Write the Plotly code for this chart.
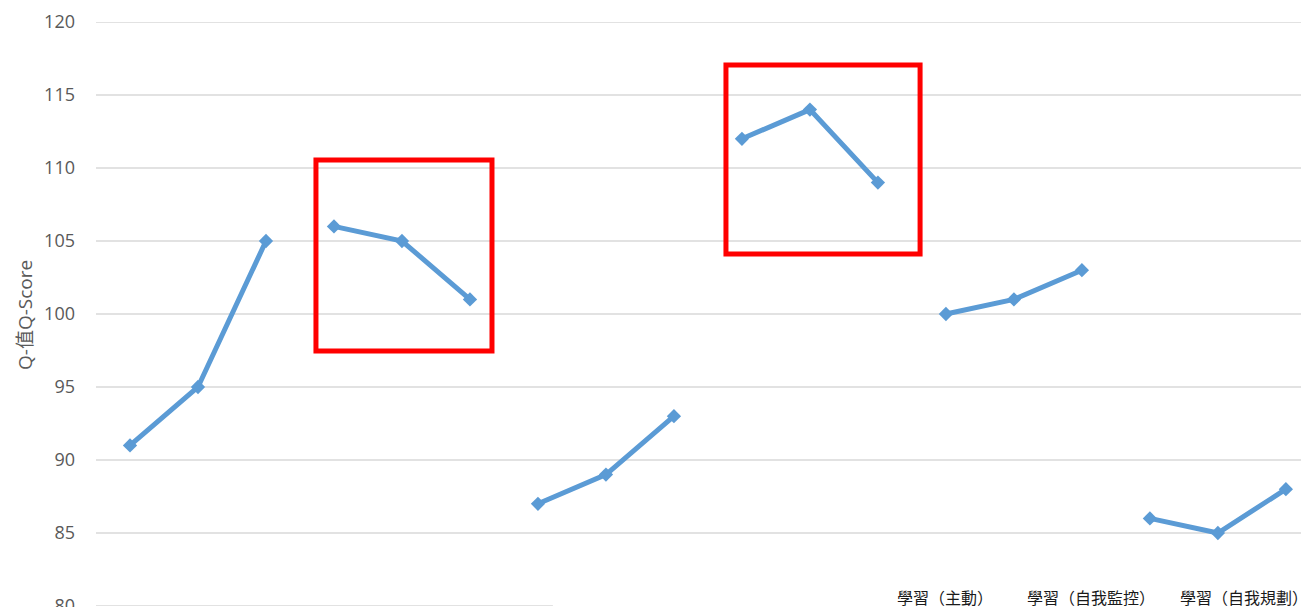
import plotly.graph_objects as go

# ---- data ----
categories = [f"{g}-{k}" for g in range(1, 7) for k in range(1, 4)]
group_a = [91, 95, 105]
group_b = [106, 105, 101]
group_c = [87, 89, 93]
group_d = [112, 114, 109]
group_e = [100, 101, 103]
group_f = [86, 85, 88]
groups = [group_a, group_b, group_c, group_d, group_e, group_f]
y_ticks = [80, 85, 90, 95, 100, 105, 110, 115, 120]
bottom_labels = ["學習（主動）", "學習（自我監控）", "學習（自我規劃）"]
y_title = "Q-值Q-Score"

LINE = "#5B9BD5"
GRID = "#D9D9D9"
TXT = "#595959"
FONT = "Open Sans, Noto Sans CJK TC, sans-serif"

fig = go.Figure()
for gi, vals in enumerate(groups):
    fig.add_trace(go.Scatter(
        x=categories[gi * 3: gi * 3 + 3], y=vals,
        mode="lines+markers",
        line=dict(color=LINE, width=5),
        marker=dict(symbol="diamond", size=11, color=LINE),
        showlegend=False, hoverinfo="x+y",
    ))

shapes = []
# gridlines from tick values
for t in y_ticks:
    if t == y_ticks[0]:
        shapes.append(dict(type="line", xref="x", yref="y", x0=-0.5, x1=6.22,
                           y0=t, y1=t, line=dict(color=GRID, width=1.3), layer="below"))
    else:
        shapes.append(dict(type="line", xref="paper", yref="y", x0=0, x1=1,
                           y0=t, y1=t, line=dict(color=GRID, width=1.3), layer="below"))
# red highlight boxes
shapes.append(dict(type="rect", xref="x", yref="y", x0=2.735, x1=5.324,
                   y0=97.47, y1=110.55, line=dict(color="#FF0000", width=5)))
shapes.append(dict(type="rect", xref="x", yref="y", x0=8.765, x1=11.62,
                   y0=104.11, y1=117.05, line=dict(color="#FF0000", width=5)))

annotations = [dict(
    text=y_title, xref="paper", yref="paper", x=(25 - 96) / 1213, y=(606 - 315) / 584,
    textangle=-90, showarrow=False, xanchor="center", yanchor="middle",
    font=dict(family=FONT, size=19, color=TXT))]
label_x = [945, 1091, 1244]
for lx, lab in zip(label_x, bottom_labels):
    annotations.append(dict(
        text=lab, xref="paper", yref="paper", x=(lx - 96) / 1213, y=(606 - 597) / 584,
        showarrow=False, xanchor="center", yanchor="middle",
        font=dict(family="Noto Sans CJK TC, sans-serif", size=16, color="#1a1a1a")))

fig.update_layout(
    width=1301, height=599,
    margin=dict(l=88, r=0, t=14, b=1, autoexpand=False),
    paper_bgcolor="white", plot_bgcolor="white",
    shapes=shapes, annotations=annotations,
    xaxis=dict(type="category", categoryorder="array", categoryarray=categories,
               range=[-0.5, 17.34], showticklabels=False, showgrid=False,
               zeroline=False, showline=False, ticks="", automargin=False),
    yaxis=dict(range=[80, 120], tickvals=y_ticks, showgrid=False, zeroline=False,
               showline=False, ticks="", ticklabelstandoff=20,
               ticklabeloverflow="allow", automargin=False,
               tickfont=dict(family=FONT, size=18, color=TXT)),
)

fig.write_html("out.html")
